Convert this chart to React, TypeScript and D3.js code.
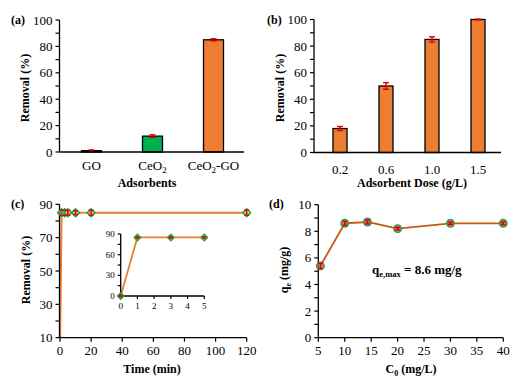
import React from "react";
import * as d3 from "d3";

const adsorbents = ["GO", "CeO2", "CeO2-GO"];
const removalA = [1, 12, 85];
const errA = [0.6, 1, 0.8];
const colorsA = ["#00B050", "#00B050", "#ED7D31"];

const doses = ["0.2", "0.6", "1.0", "1.5"];
const removalB = [18, 50, 85, 100];
const errB = [1.5, 2.5, 2, 0.3];

const times = [0, 1, 3, 5, 10, 20, 120];
const removalC = [0, 85, 85, 85, 85, 85, 85];
const errC = [0, 1.5, 1.5, 1.5, 1.2, 1.5, 1.5];

const insetTimes = [0, 1, 3, 5];
const insetRemoval = [0, 85, 85, 85];

const c0 = [5.4, 10, 14.3, 20, 30, 40];
const qe = [5.4, 8.6, 8.7, 8.2, 8.6, 8.6];
const errD = [0.2, 0.15, 0.15, 0.1, 0.1, 0.1];

const FONT = "'Liberation Serif', 'Times New Roman', serif";
const ORANGE = "#ED7D31";
const DARK_ORANGE = "#C55A11";
const GREEN = "#00B050";
const RED = "#E00000";

type YAxisProps = {
  scale: d3.ScaleLinear<number, number>;
  x: number;
  major: number[];
  minor: number[];
  fontSize?: number;
  tick?: number;
};

function YAxis({ scale, x, major, minor, fontSize = 13, tick = 4 }: YAxisProps) {
  const [r0, r1] = scale.range();
  return (
    <g>
      <line x1={x} x2={x} y1={r0} y2={r1} stroke="#000" strokeWidth={1.3} />
      {minor.map((v) => (
        <line key={"m" + v} x1={x - tick} x2={x} y1={scale(v)} y2={scale(v)} stroke="#000" strokeWidth={1.2} />
      ))}
      {major.map((v) => (
        <g key={"M" + v}>
          <line x1={x - tick} x2={x} y1={scale(v)} y2={scale(v)} stroke="#000" strokeWidth={1.2} />
          <text x={x - tick - 3} y={scale(v)} dy="0.35em" textAnchor="end" fontSize={fontSize} fontFamily={FONT}>
            {v}
          </text>
        </g>
      ))}
    </g>
  );
}

type XAxisProps = {
  scale: d3.ScaleLinear<number, number>;
  y: number;
  major: number[];
  fontSize?: number;
  tick?: number;
  x0?: number;
  x1?: number;
};

function XAxis({ scale, y, major, fontSize = 13, tick = 4, x0, x1 }: XAxisProps) {
  const [r0, r1] = scale.range();
  return (
    <g>
      <line x1={x0 ?? r0} x2={x1 ?? r1} y1={y} y2={y} stroke="#000" strokeWidth={1.3} />
      {major.map((v) => (
        <g key={v}>
          <line x1={scale(v)} x2={scale(v)} y1={y} y2={y + tick} stroke="#000" strokeWidth={1.2} />
          <text x={scale(v)} y={y + tick + 3} dy="0.8em" textAnchor="middle" fontSize={fontSize} fontFamily={FONT}>
            {v}
          </text>
        </g>
      ))}
    </g>
  );
}

function ErrBar({ x, y0, y1, w = 3 }: { x: number; y0: number; y1: number; w?: number }) {
  return (
    <g stroke={RED} strokeWidth={1.4}>
      <line x1={x} x2={x} y1={y0} y2={y1} />
      <line x1={x - w} x2={x + w} y1={y0} y2={y0} />
      <line x1={x - w} x2={x + w} y1={y1} y2={y1} />
    </g>
  );
}

function Diamond({ x, y, s = 4 }: { x: number; y: number; s?: number }) {
  return (
    <path
      d={`M${x},${y - s}L${x + s},${y}L${x},${y + s}L${x - s},${y}Z`}
      fill="#F4B183"
      fillOpacity={0.6}
      stroke={GREEN}
      strokeWidth={1.4}
    />
  );
}

function catLabel(c: string) {
  if (c === "CeO2") {
    return (
      <>
        CeO<tspan fontSize={9} dy={3}>2</tspan>
      </>
    );
  }
  if (c === "CeO2-GO") {
    return (
      <>
        CeO<tspan fontSize={9} dy={3}>2</tspan>
        <tspan dy={-3}>-GO</tspan>
      </>
    );
  }
  return c;
}

function PanelA() {
  const x = d3.scalePoint<string>().domain(adsorbents).range([61, 244]).padding(0.5);
  const y = d3.scaleLinear().domain([0, 100]).range([152, 20]);
  const bw = 20;
  return (
    <g>
      {adsorbents.map((c, i) => (
        <g key={c}>
          <rect
            x={(x(c) as number) - bw / 2}
            y={y(removalA[i])}
            width={bw}
            height={y(0) - y(removalA[i])}
            fill={colorsA[i]}
            stroke="#000"
            strokeWidth={1.3}
          />
          <ErrBar x={x(c) as number} y0={y(removalA[i] - errA[i])} y1={y(removalA[i] + errA[i])} />
          <text x={x(c) as number} y={170} textAnchor="middle" fontSize={13} fontFamily={FONT}>
            {catLabel(c)}
          </text>
        </g>
      ))}
      <line x1={59.5} x2={244} y1={152} y2={152} stroke="#000" strokeWidth={1.3} />
      <YAxis scale={y} x={59.5} major={[0, 20, 40, 60, 80, 100]} minor={[10, 30, 50, 70, 90]} />
      <text x={147} y={187} textAnchor="middle" fontSize={12} fontWeight="bold" fontFamily={FONT}>
        Adsorbents
      </text>
      <text transform="translate(29,88) rotate(-90)" textAnchor="middle" fontSize={12} fontWeight="bold" fontFamily={FONT}>
        Removal (%)
      </text>
      <text x={11} y={24} fontSize={12} fontWeight="bold" fontFamily={FONT}>
        (a)
      </text>
    </g>
  );
}

function PanelB() {
  const x = d3.scalePoint<string>().domain(doses).range([317, 501]).padding(0.5);
  const y = d3.scaleLinear().domain([0, 100]).range([152.5, 19.5]);
  const bw = 14;
  return (
    <g>
      {doses.map((c, i) => (
        <g key={c}>
          <rect
            x={(x(c) as number) - bw / 2}
            y={y(removalB[i])}
            width={bw}
            height={y(0) - y(removalB[i])}
            fill={ORANGE}
            stroke="#000"
            strokeWidth={1.3}
          />
          <ErrBar x={x(c) as number} y0={y(removalB[i] - errB[i])} y1={y(removalB[i] + errB[i])} />
          <text x={x(c) as number} y={174} textAnchor="middle" fontSize={13} fontFamily={FONT}>
            {c}
          </text>
        </g>
      ))}
      <line x1={314} x2={501} y1={152.5} y2={152.5} stroke="#000" strokeWidth={1.3} />
      <YAxis scale={y} x={314} major={[0, 20, 40, 60, 80, 100]} minor={[10, 30, 50, 70, 90]} />
      <text x={412} y={187} textAnchor="middle" fontSize={12} fontWeight="bold" fontFamily={FONT}>
        Adsorbent Dose (g/L)
      </text>
      <text transform="translate(284,88) rotate(-90)" textAnchor="middle" fontSize={12} fontWeight="bold" fontFamily={FONT}>
        Removal (%)
      </text>
      <text x={267} y={24} fontSize={12} fontWeight="bold" fontFamily={FONT}>
        (b)
      </text>
    </g>
  );
}

function PanelC() {
  const x = d3.scaleLinear().domain([0, 120]).range([60, 246.7]);
  const y = d3.scaleLinear().domain([10, 90]).range([337.7, 204.3]);
  const line = d3
    .line<number>()
    .x((_, i) => x(times[i]))
    .y((d) => y(d));
  const xi = d3.scaleLinear().domain([0, 5]).range([120.7, 204.3]);
  const yi = d3.scaleLinear().domain([0, 90]).range([296, 234]);
  const lineI = d3
    .line<number>()
    .x((_, i) => xi(insetTimes[i]))
    .y((d) => yi(d));
  return (
    <g>
      <defs>
        <clipPath id="clipC">
          <rect x={59.5} y={195} width={200} height={142.7} />
        </clipPath>
      </defs>
      <path d={line(removalC) ?? ""} fill="none" stroke={ORANGE} strokeWidth={2} clipPath="url(#clipC)" />
      <YAxis scale={y} x={59.5} major={[10, 30, 50, 70, 90]} minor={[20, 40, 60, 80]} />
      <XAxis scale={x} y={337.7} major={[0, 20, 40, 60, 80, 100, 120]} x0={59.5} />
      {times.map((t, i) =>
        removalC[i] >= 10 ? (
          <g key={t}>
            <Diamond x={x(t)} y={y(removalC[i])} />
            <ErrBar x={x(t)} y0={y(removalC[i] - errC[i])} y1={y(removalC[i] + errC[i])} w={2.5} />
          </g>
        ) : null
      )}
      {/* inset */}
      <path d={lineI(insetRemoval) ?? ""} fill="none" stroke={ORANGE} strokeWidth={1.8} />
      <YAxis scale={yi} x={120.7} major={[0, 30, 60, 90]} minor={[15, 45, 75]} fontSize={9} tick={3} />
      <XAxis scale={xi} y={296} major={[0, 1, 2, 3, 4, 5]} fontSize={9} tick={3} />
      {insetTimes.map((t, i) => (
        <g key={"i" + t}>
          <Diamond x={xi(t)} y={yi(insetRemoval[i])} s={3.2} />
          <ErrBar x={xi(t)} y0={yi(insetRemoval[i] - 1)} y1={yi(insetRemoval[i] + 1)} w={2} />
        </g>
      ))}
      <text x={152} y={373} textAnchor="middle" fontSize={12} fontWeight="bold" fontFamily={FONT}>
        Time (min)
      </text>
      <text transform="translate(30,270) rotate(-90)" textAnchor="middle" fontSize={12} fontWeight="bold" fontFamily={FONT}>
        Removal (%)
      </text>
      <text x={11} y={208} fontSize={12} fontWeight="bold" fontFamily={FONT}>
        (c)
      </text>
    </g>
  );
}

function PanelD() {
  const x = d3.scaleLinear().domain([5, 40]).range([318.3, 503.3]);
  const y = d3.scaleLinear().domain([0, 10]).range([337.7, 204.7]);
  const line = d3
    .line<number>()
    .x((_, i) => x(c0[i]))
    .y((d) => y(d));
  return (
    <g>
      <path d={line(qe) ?? ""} fill="none" stroke={DARK_ORANGE} strokeWidth={1.8} />
      <YAxis scale={y} x={318.3} major={[0, 2, 4, 6, 8, 10]} minor={[1, 3, 5, 7, 9]} />
      <XAxis scale={x} y={337.7} major={[5, 10, 15, 20, 25, 30, 35, 40]} />
      {c0.map((c, i) => (
        <g key={c}>
          <circle cx={x(c)} cy={y(qe[i])} r={3.8} fill="#D9534F" fillOpacity={0.8} stroke={GREEN} strokeWidth={1.3} />
          <ErrBar x={x(c)} y0={y(qe[i] - errD[i])} y1={y(qe[i] + errD[i])} w={2.5} />
        </g>
      ))}
      <text x={372} y={274} fontSize={13} fontWeight="bold" fontFamily={FONT}>
        q<tspan fontSize={8.5} dy={3}>e,max</tspan>
        <tspan dy={-3}> = 8.6 mg/g</tspan>
      </text>
      <text x={411} y={373} textAnchor="middle" fontSize={12} fontWeight="bold" fontFamily={FONT}>
        C<tspan fontSize={8} dy={3}>0</tspan>
        <tspan dy={-3}> (mg/L)</tspan>
      </text>
      <text transform="translate(288,270) rotate(-90)" textAnchor="middle" fontSize={12} fontWeight="bold" fontFamily={FONT}>
        q<tspan fontSize={8} dy={3}>e</tspan>
        <tspan dy={-3}> (mg/g)</tspan>
      </text>
      <text x={269} y={208} fontSize={12} fontWeight="bold" fontFamily={FONT}>
        (d)
      </text>
    </g>
  );
}

export default function App() {
  return (
    <svg
      width={530}
      height={384}
      viewBox="0 0 530 384"
      style={{ position: "absolute", left: 0, top: 0, background: "#fff" }}
    >
      <rect width={530} height={384} fill="#fff" />
      <PanelA />
      <PanelB />
      <PanelC />
      <PanelD />
    </svg>
  );
}
